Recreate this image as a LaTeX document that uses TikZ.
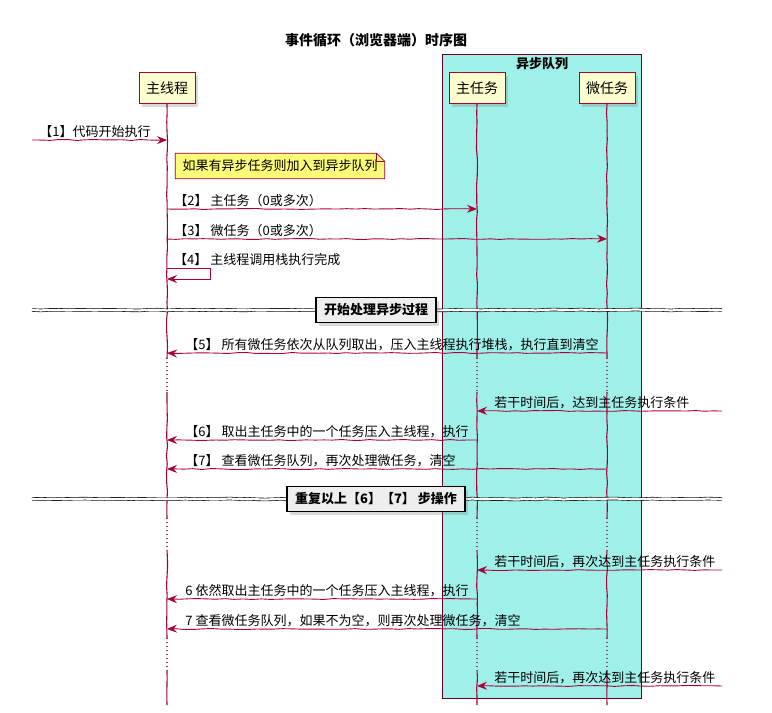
\documentclass[tikz,border=0pt]{standalone}
\usepackage{fontspec}
\setmainfont{Noto Sans CJK SC}
\usepackage{tikz}
\usetikzlibrary{arrows.meta,positioning,shadows,backgrounds,calc,decorations.pathmorphing}
\definecolor{umlred}{HTML}{A80036}
\definecolor{partfill}{HTML}{FEFECE}
\definecolor{notefill}{HTML}{FBFB77}
\definecolor{queuefill}{HTML}{9EF0E8}
\definecolor{divfill}{HTML}{EEEEEE}

\begin{document}
\begin{tikzpicture}[x=1pt, y=-1pt,
    rough/.style={decorate, decoration={random steps, segment length=9pt, amplitude=0.5pt}},
    part/.style={rectangle, draw=umlred, fill=partfill, line width=1pt, minimum width=56pt, minimum height=31pt, font=\fontsize{14}{16}\selectfont, drop shadow={shadow xshift=3pt, shadow yshift=-3pt, opacity=0.3}},
    queue/.style={rectangle, draw=umlred!60!black, fill=queuefill, line width=0.8pt, anchor=north west, minimum width=199pt, minimum height=644pt},
    life/.style={draw=umlred, line width=1.1pt, rough},
    lifed/.style={draw=umlred!50!gray, line width=1.2pt, dash pattern=on 1.2pt off 2.8pt},
    msg/.style={draw=umlred, line width=0.9pt, rough, -{Stealth[length=10pt, width=8pt, inset=3.5pt]}},
    lbl/.style={font=\fontsize{13}{15}\selectfont, inner sep=0pt, anchor=base west},
    divline/.style={draw=black, double=white, double distance=2.2pt, line width=0.6pt, rough},
    divbox/.style={rectangle, draw=black, fill=divfill, line width=1.2pt, minimum height=25pt, inner xsep=8pt, font=\bfseries\fontsize{13}{15}\selectfont, drop shadow={shadow xshift=3pt, shadow yshift=-3pt, opacity=0.3}},
    note/.style={inner xsep=7pt, minimum height=25pt, font=\fontsize{13}{15}\selectfont},
]
    \pgfmathsetseed{7}
    \useasboundingbox (0,0) rectangle (772,713);
    \node[font=\bfseries\fontsize{14}{16}\selectfont] (title) at (376,40) {事件循环（浏览器端）时序图};

    \node[queue] (q) at (442,54) {};
    \node[font=\bfseries\fontsize{13}{15}\selectfont] (qtitle) at (542,64) {异步队列};

    \node[part] (main) at (167,88) {主线程};
    \node[part] (mtask) at (477,88) {主任务};
    \node[part] (micro) at (607,88) {微任务};

    \foreach \p in {main,mtask,micro}{
        \draw[life] (\p.south) -- (\p |- 0,358);
        \draw[lifed] (\p |- 0,358) -- (\p |- 0,392);
        \draw[life] (\p |- 0,392) -- (\p |- 0,518);
        \draw[lifed] (\p |- 0,518) -- (\p |- 0,550);
        \draw[life] (\p |- 0,550) -- (\p |- 0,638);
        \draw[lifed] (\p |- 0,638) -- (\p |- 0,670);
        \draw[life] (\p |- 0,670) -- (\p |- 0,705);
    }

    \coordinate (start) at (32,140);
    \draw[msg] (start) -- (main |- start) node[lbl, pos=0, xshift=7pt, yshift=4pt] (l1) {【1】代码开始执行};

    \node[note] (nt) at (280,166) {如果有异步任务则加入到异步队列};
    \begin{scope}[on background layer]
        \fill[black, opacity=0.25, shift={(3,3)}] (nt.south west) -- (nt.north west) -- ([xshift=-8pt]nt.north east) -- ([yshift=-8pt]nt.north east) -- (nt.south east) -- cycle;
        \filldraw[fill=notefill, draw=umlred, line width=0.8pt] (nt.south west) -- (nt.north west) -- ([xshift=-8pt]nt.north east) -- ([yshift=-8pt]nt.north east) -- (nt.south east) -- cycle;
    \end{scope}
    \draw[umlred, line width=0.8pt] ([xshift=-8pt]nt.north east) |- ([yshift=-8pt]nt.north east);

    \draw[msg] (main |- 0,209) -- (mtask |- 0,209) node[lbl, pos=0, xshift=7pt, yshift=4pt] (l2) {【2】 主任务（0或多次）};
    \draw[msg] (main |- 0,239) -- (micro |- 0,239) node[lbl, pos=0, xshift=7pt, yshift=4pt] (l3) {【3】 微任务（0或多次）};
    \draw[msg, decorate=false] (main |- 0,268) -- ++(43,0) -- ++(0,11) -- (main |- 0,279);
    \node[lbl] (l4) at ($(main |- 0,268)+(7,-4)$) {【4】 主线程调用栈执行完成};

    \coordinate (dl1) at (32,310);
    \coordinate (dr1) at (722,310);
    \draw[divline] (dl1) -- (dr1);
    \node[divbox] (d1) at (376,310) {开始处理异步过程};

    \draw[msg] (micro |- 0,353) -- (main |- 0,353) node[lbl, pos=1, xshift=18pt, yshift=4pt] (l5) {【5】 所有微任务依次从队列取出，压入主线程执行堆栈，执行直到清空};

    \coordinate (ext1) at (722,411);
    \draw[msg] (ext1) -- (mtask |- ext1) node[lbl, pos=1, xshift=17pt, yshift=4pt] (l6a) {若干时间后，达到主任务执行条件};
    \draw[msg] (mtask |- 0,440) -- (main |- 0,440) node[lbl, pos=1, xshift=18pt, yshift=4pt] (l6) {【6】 取出主任务中的一个任务压入主线程，执行};
    \draw[msg] (micro |- 0,469) -- (main |- 0,469) node[lbl, pos=1, xshift=18pt, yshift=4pt] (l7) {【7】 查看微任务队列，再次处理微任务，清空};

    \coordinate (dl2) at (32,499);
    \coordinate (dr2) at (722,499);
    \draw[divline] (dl2) -- (dr2);
    \node[divbox] (d2) at (376,499) {重复以上【6】【7】 步操作};

    \coordinate (ext2) at (722,570);
    \draw[msg] (ext2) -- (mtask |- ext2) node[lbl, pos=1, xshift=17pt, yshift=4pt] (l6b) {若干时间后，再次达到主任务执行条件};
    \draw[msg] (mtask |- 0,599) -- (main |- 0,599) node[lbl, pos=1, xshift=18pt, yshift=4pt] (l6c) {6 依然取出主任务中的一个任务压入主线程，执行};
    \draw[msg] (micro |- 0,629) -- (main |- 0,629) node[lbl, pos=1, xshift=18pt, yshift=4pt] (l7c) {7 查看微任务队列，如果不为空，则再次处理微任务，清空};

    \coordinate (ext3) at (722,686);
    \draw[msg] (ext3) -- (mtask |- ext3) node[lbl, pos=1, xshift=17pt, yshift=4pt] (l6d) {若干时间后，再次达到主任务执行条件};
\end{tikzpicture}
\end{document}
